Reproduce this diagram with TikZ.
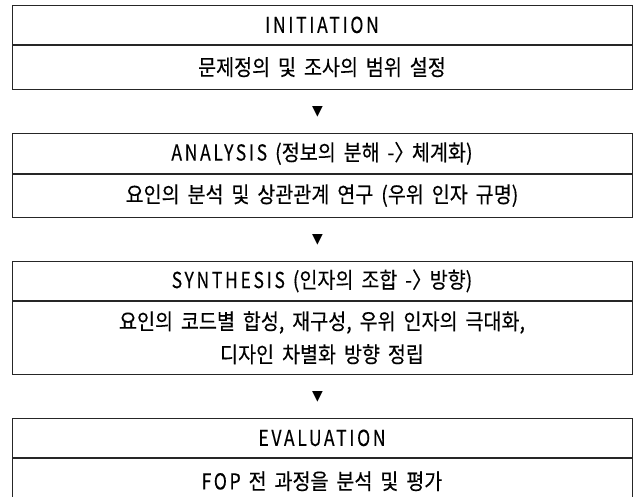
\documentclass[tikz,border=0pt]{standalone}
\usepackage{fontspec}
\setmainfont{Noto Sans CJK KR}
\newfontfamily\kr[FakeStretch=0.89,WordSpace=1.8,FakeBold=0.25]{Noto Sans CJK KR}
\newfontfamily\la[FakeStretch=0.8,LetterSpace=12,FakeBold=0.25]{Noto Sans CJK KR}
\newfontfamily\sym{DejaVu Sans}
\newcommand\rarr{-〉\kern-0.45em}
\begin{document}
\begin{tikzpicture}[x=1pt,y=1pt,
  cell/.style={draw=black!85, line width=0.8pt, minimum width=620pt, inner sep=0pt,
    anchor=north, align=center, font=\kr\fontsize{22pt}{26pt}\selectfont},
  multi/.style={font=\kr\fontsize{22pt}{33pt}\selectfont},
  tri/.style={inner sep=0pt, font=\sym\fontsize{14pt}{15pt}\selectfont}]
\useasboundingbox (0,0) rectangle (638,-497);
% box 1
\node[cell, minimum height=39pt] (t1) at (322,-5) {{\la INITIATION}};
\node[cell, minimum height=44pt] (b1) at (t1.south) {문제정의 및 조사의 범위 설정};
% box 2
\node[cell, minimum height=40pt] (t2) at (322,-133) {{\la ANALYSIS} (정보의 분해 \rarr{} 체계화)};
\node[cell, minimum height=43pt] (b2) at (t2.south) {요인의 분석 및 상관관계 연구 (우위 인자 규명)};
% box 3
\node[cell, minimum height=39pt] (t3) at (322,-261) {{\la SYNTHESIS} (인자의 조합 \rarr{} 방향)};
\node[cell, multi, minimum height=73pt] (b3) at (t3.south) {요인의 코드별 합성, 재구성, 우위 인자의 극대화,\\디자인 차별화 방향 정립};
% box 4
\node[cell, minimum height=39pt] (t4) at (322,-418) {{\la EVALUATION}};
\node[cell, minimum height=46pt] (b4) at (t4.south) {{\la FOP} 전 과정을 분석 및 평가};
% arrows
\node[tri] (a1) at (317.5,-112) {▼};
\node[tri] (a2) at (317.5,-240) {▼};
\node[tri] (a3) at (317.5,-397) {▼};
\end{tikzpicture}
\end{document}
